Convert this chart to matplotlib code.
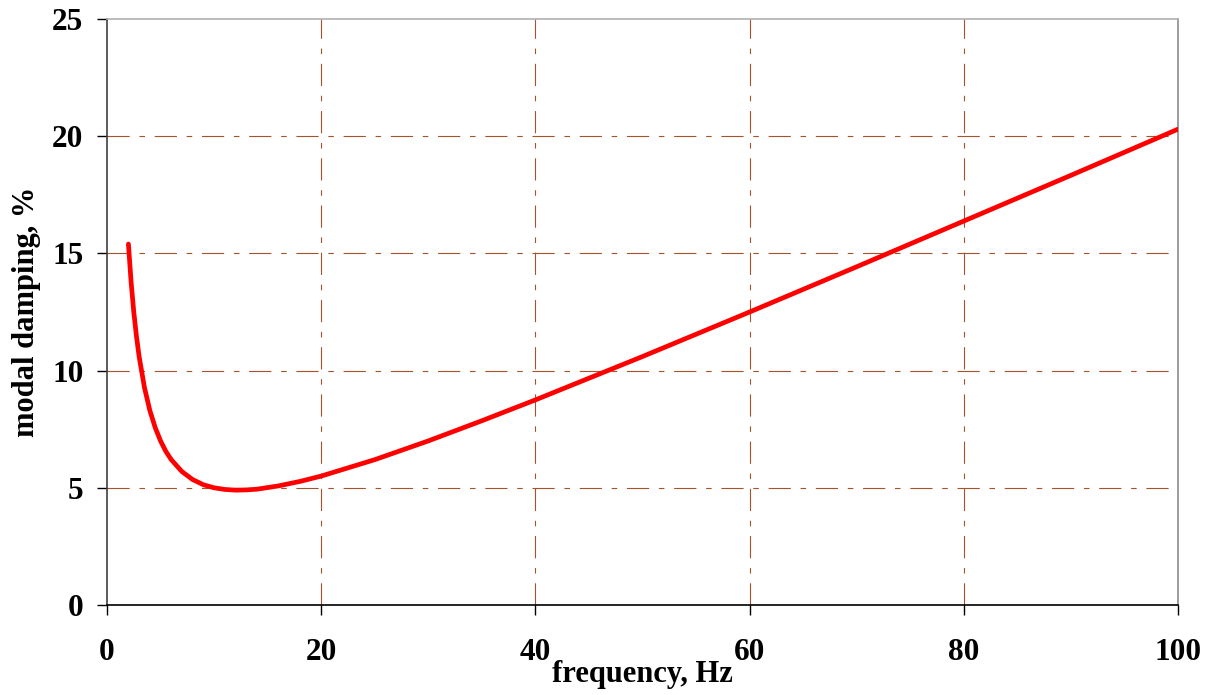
import matplotlib
matplotlib.use("Agg")
import matplotlib.pyplot as plt

# Values
frequency_hz = [2, 2.25, 2.5, 2.75, 3, 3.5, 4, 4.5, 5, 5.5, 6, 7, 8, 9, 10, 11, 12, 13, 14,
                16, 18, 20, 25, 30, 35, 40, 50, 60, 70, 80, 90, 100]
modal_damping = [15.4, 13.78, 12.5, 11.46, 10.6, 9.27, 8.3, 7.57, 7.0, 6.55, 6.2, 5.69, 5.35,
                 5.13, 5.0, 4.93, 4.90, 4.91, 4.94, 5.08, 5.27, 5.5, 6.2, 7.0, 7.86, 8.75,
                 10.6, 12.5, 14.43, 16.38, 18.33, 20.3]
x_ticks = [0, 20, 40, 60, 80, 100]
y_ticks = [0, 5, 10, 15, 20, 25]

plt.rcParams['lines.scale_dashes'] = False
plt.rcParams['font.family'] = ['Liberation Serif', 'DejaVu Serif']

fig = plt.figure(figsize=(12.15, 6.95), dpi=100)
ax = fig.add_axes([107 / 1215, 1 - 605 / 695, 1071 / 1215, 586 / 695])

grid_color = '#A5532A'
dash = (0, (16, 7, 4, 7))
for xv in x_ticks[1:-1]:
    ax.axvline(xv, color=grid_color, lw=0.8, linestyle=dash, zorder=1)
for yv in y_ticks[1:-1]:
    ax.axhline(yv, color=grid_color, lw=0.8, linestyle=dash, zorder=1)

ax.plot(frequency_hz, modal_damping, color='#FF0000', lw=3.4, solid_capstyle='round', zorder=3)

ax.set_xlim(0, 100)
ax.set_ylim(0, 25)
ax.set_xticks(x_ticks)
ax.set_yticks(y_ticks)
ax.set_xticklabels([str(v) for v in x_ticks], fontsize=22.5, fontweight='bold')
ax.set_yticklabels([str(v) for v in y_ticks], fontsize=22.5, fontweight='bold')
ax.tick_params(axis='x', direction='out', length=7, width=1, pad=17, color='black')
ax.tick_params(axis='y', direction='out', length=7, width=1, pad=10, color='black')

ax.spines['left'].set_color('#404040')
ax.spines['bottom'].set_color('black')
ax.spines['top'].set_color('#B0B0B0')
ax.spines['right'].set_color('#8C8C8C')
for s in ax.spines.values():
    s.set_linewidth(1.2)

ax.set_xlabel('frequency, Hz', fontsize=22, fontweight='bold')
ax.xaxis.set_label_coords(0.5, -0.118)
ax.xaxis.label.set_va('center')
ax.set_ylabel('modal damping, %', fontsize=22, fontweight='bold')
ax.yaxis.set_label_coords(-0.0747, 0.5)
ax.yaxis.label.set_va('center')

fig.savefig('out.png', dpi=100)
